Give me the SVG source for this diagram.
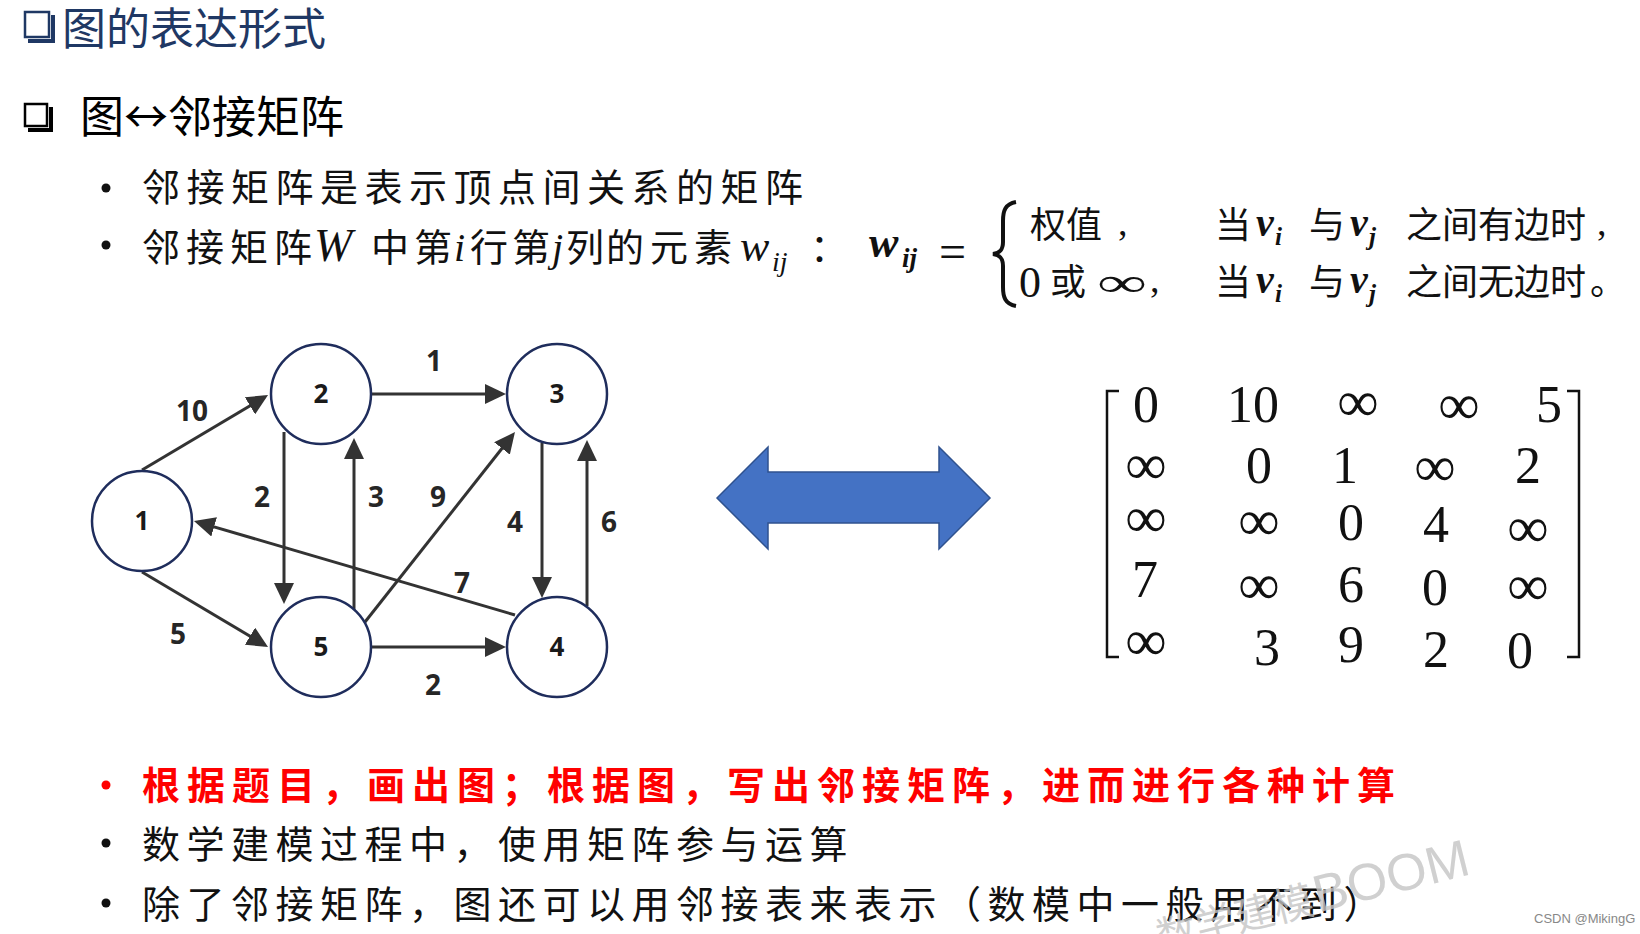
<svg xmlns="http://www.w3.org/2000/svg" width="1640" height="934" viewBox="0 0 1640 934">
<defs>
<style>
.cjk{font-family:"Noto Sans CJK SC","Noto Sans CJK JP",sans-serif;}
.bl{font-family:"Noto Sans CJK SC",sans-serif;font-size:38px;letter-spacing:6.5px;fill:#111;}
.mi{font-family:"Liberation Serif","DejaVu Serif",serif;font-style:italic;}
.rm{font-family:"Liberation Serif","DejaVu Serif",serif;}
.fc{font-family:"Noto Sans CJK SC",sans-serif;font-size:36px;fill:#111;}
.mx{font-family:"Liberation Serif",serif;font-size:52px;fill:#111;text-anchor:middle;}
.inf{font-family:"Liberation Serif",serif;font-size:58px;fill:#111;text-anchor:middle;}
.lbl{font-family:"Open Sans","Liberation Sans",sans-serif;font-weight:bold;font-size:28px;fill:#262626;text-anchor:middle;}
.nl{font-family:"Open Sans","Liberation Sans",sans-serif;font-weight:bold;font-size:26px;fill:#1a1a1a;text-anchor:middle;}
.node circle{fill:#fff;stroke:#1F2D5C;stroke-width:2.5;}
.edge{stroke:#333;stroke-width:3;fill:none;marker-end:url(#ah);}
.dot{fill:#111;}
.wm{font-family:"Liberation Sans","Noto Sans CJK SC",sans-serif;fill:#c4c4c4;fill-opacity:0.8;}
</style>
<marker id="ah" markerUnits="userSpaceOnUse" markerWidth="22" markerHeight="20" refX="17" refY="10" orient="auto">
<path d="M0,0 L21,10 L0,20 z" fill="#333"/>
</marker>
</defs>
<rect width="1640" height="934" fill="#fff"/>

<!-- Title -->
<g id="title">
<rect x="25" y="12" width="24" height="25" fill="none" stroke="#1F3864" stroke-width="2.5"/>
<polygon points="51,15 55,15 55,43 28,43 28,39 51,39" fill="#1F3864"/>
<text class="cjk" x="62" y="45" font-size="44" fill="#1F3864">图的表达形式</text>
</g>

<g id="subtitle">
<rect x="25" y="104" width="22" height="22" fill="none" stroke="#000" stroke-width="2.5"/>
<polygon points="49,107 53,107 53,132 28,132 28,128 49,128" fill="#000"/>
<text class="cjk" x="80" y="133" font-size="44" fill="#000">图↔邻接矩阵</text>
</g>

<!-- bullets top -->
<g id="bullet1">
<circle class="dot" cx="106" cy="188" r="4.5"/>
<text class="bl" x="142" y="201">邻接矩阵是表示顶点间关系的矩阵</text>
</g>
<g id="bullet2">
<circle class="dot" cx="106" cy="245" r="4.5"/>
<text class="cjk" font-size="38" fill="#111" y="261"><tspan x="142">邻</tspan><tspan x="186">接</tspan><tspan x="230">矩</tspan><tspan x="274">阵</tspan><tspan x="371">中</tspan><tspan x="414">第</tspan><tspan x="470">行</tspan><tspan x="512">第</tspan><tspan x="566">列</tspan><tspan x="606">的</tspan><tspan x="650">元</tspan><tspan x="694">素</tspan><tspan x="810">：</tspan></text>
<text class="mi" font-size="46" fill="#111" x="314" y="261">W</text>
<text class="mi" font-size="40" fill="#111" x="454" y="261">i</text>
<text class="mi" font-size="40" fill="#111" x="552" y="261">j</text>
<text class="mi" font-size="44" fill="#111" x="740" y="261">w</text>
<text class="mi" font-size="28" fill="#111" x="772" y="271">ij</text>
</g>

<!-- formula -->
<g id="formula">
<text class="mi" font-size="44" font-weight="bold" fill="#111" x="869" y="257">w</text>
<text class="mi" font-size="27" font-weight="bold" fill="#111" x="902" y="267">ij</text>
<text class="rm" font-size="48" fill="#111" x="939" y="268">=</text>
<path d="M1016,202 C1005,204 1003,211 1003,221 L1003,242 C1003,250 1000,253 993,254 C1000,255 1003,258 1003,266 L1003,287 C1003,297 1005,304 1016,306" fill="none" stroke="#111" stroke-width="4"/>
<text class="fc" x="1030" y="238">权值</text>
<text class="rm" font-size="38" fill="#111" x="1118" y="235">,</text>
<text class="rm" font-size="44" fill="#111" x="1019" y="297">0</text>
<text class="fc" x="1050" y="295">或</text>
<text class="rm" font-size="40" fill="#111" x="1097" y="296" textLength="50" lengthAdjust="spacingAndGlyphs">∞</text>
<text class="rm" font-size="38" fill="#111" x="1150" y="292">,</text>
<text class="fc" y="238"><tspan x="1215">当</tspan><tspan x="1309">与</tspan><tspan x="1406">之间有边时</tspan></text>
<text class="mi" font-size="40" font-weight="bold" fill="#111" x="1256" y="236">v</text>
<text class="mi" font-size="25" font-weight="bold" fill="#111" x="1275" y="245">i</text>
<text class="mi" font-size="40" font-weight="bold" fill="#111" x="1350" y="236">v</text>
<text class="mi" font-size="25" font-weight="bold" fill="#111" x="1369" y="245">j</text>
<text class="rm" font-size="38" fill="#111" x="1597" y="235">,</text>
<text class="fc" y="295"><tspan x="1215">当</tspan><tspan x="1309">与</tspan><tspan x="1406">之间无边时</tspan><tspan x="1590">。</tspan></text>
<text class="mi" font-size="40" font-weight="bold" fill="#111" x="1256" y="293">v</text>
<text class="mi" font-size="25" font-weight="bold" fill="#111" x="1275" y="302">i</text>
<text class="mi" font-size="40" font-weight="bold" fill="#111" x="1350" y="293">v</text>
<text class="mi" font-size="25" font-weight="bold" fill="#111" x="1369" y="302">j</text>
</g>

<!-- connectors -->
<g id="connectors">
<path class="edge" d="M142,470 L264.6,397.1"/>
<path class="edge" d="M142,572 L264.6,644.9"/>
<path class="edge" d="M372,394 L502,394"/>
<path class="edge" d="M372,647 L502,647"/>
<path class="edge" d="M284,432 L284,600"/>
<path class="edge" d="M354,610 L354,442"/>
<path class="edge" d="M542,443 L542,594"/>
<path class="edge" d="M587,606 L587,444"/>
<path class="edge" d="M365,622 L512.5,435.1"/>
<path class="edge" d="M515,615 L197.8,522.1"/>
<text class="lbl" x="192" y="421">10</text>
<text class="lbl" x="178" y="644">5</text>
<text class="lbl" x="434" y="371">1</text>
<text class="lbl" x="262" y="507">2</text>
<text class="lbl" x="376" y="507">3</text>
<text class="lbl" x="438" y="507">9</text>
<text class="lbl" x="515" y="532">4</text>
<text class="lbl" x="609" y="532">6</text>
<text class="lbl" x="462" y="593">7</text>
<text class="lbl" x="433" y="695">2</text>
</g>

<!-- nodes -->
<g id="node1" class="node"><circle cx="142" cy="521" r="50"/><text class="nl" x="142" y="530">1</text></g>
<g id="node2" class="node"><circle cx="321" cy="394" r="50"/><text class="nl" x="321" y="403">2</text></g>
<g id="node3" class="node"><circle cx="557" cy="394" r="50"/><text class="nl" x="557" y="403">3</text></g>
<g id="node4" class="node"><circle cx="557" cy="647" r="50"/><text class="nl" x="557" y="656">4</text></g>
<g id="node5" class="node"><circle cx="321" cy="647" r="50"/><text class="nl" x="321" y="656">5</text></g>

<!-- double arrow -->
<g id="double-arrow">
<polygon points="717,498 768,447 768,472 939,472 939,447 990,498 939,549 939,523 768,523 768,549" fill="#4472C4" stroke="#2F528F" stroke-width="1.5"/>
</g>

<!-- matrix -->
<g id="matrix">
<path d="M1119,391 L1107,391 L1107,657 L1119,657" fill="none" stroke="#111" stroke-width="2.5"/>
<path d="M1567,391 L1579,391 L1579,657 L1567,657" fill="none" stroke="#111" stroke-width="2.5"/>
<text class="mx" x="1146" y="422">0</text>
<text class="mx" x="1253" y="422">10</text>
<text class="inf" x="1358" y="421">∞</text>
<text class="inf" x="1459" y="424">∞</text>
<text class="mx" x="1549" y="422">5</text>

<text class="inf" x="1146" y="484">∞</text>
<text class="mx" x="1259" y="483">0</text>
<text class="mx" x="1345" y="483">1</text>
<text class="inf" x="1435" y="486">∞</text>
<text class="mx" x="1528" y="483">2</text>

<text class="inf" x="1146" y="537">∞</text>
<text class="inf" x="1259" y="540">∞</text>
<text class="mx" x="1351" y="540">0</text>
<text class="mx" x="1436" y="542">4</text>
<text class="inf" x="1528" y="547">∞</text>

<text class="mx" x="1145" y="597">7</text>
<text class="inf" x="1259" y="604">∞</text>
<text class="mx" x="1351" y="602">6</text>
<text class="mx" x="1435" y="605">0</text>
<text class="inf" x="1528" y="605">∞</text>

<text class="inf" x="1146" y="660">∞</text>
<text class="mx" x="1267" y="665">3</text>
<text class="mx" x="1351" y="662">9</text>
<text class="mx" x="1436" y="667">2</text>
<text class="mx" x="1520" y="668">0</text>
</g>

<!-- bottom bullets -->
<g id="bullet3">
<circle cx="106" cy="785" r="4.5" fill="#FF0000"/>
<text class="bl" x="142" y="799" style="fill:#FF0000;font-weight:bold;letter-spacing:7px">根据题目，画出图；根据图，写出邻接矩阵，进而进行各种计算</text>
</g>
<g id="bullet4">
<circle class="dot" cx="106" cy="843" r="4.5"/>
<text class="bl" x="142" y="858">数学建模过程中，使用矩阵参与运算</text>
</g>
<g id="bullet5">
<circle class="dot" cx="106" cy="903" r="4.5"/>
<text class="bl" x="142" y="918">除了邻接矩阵，图还可以用邻接表来表示（数模中一般用不到）</text>
</g>

<!-- watermark -->
<g id="watermark" transform="rotate(-14 1320 912)">
<text class="wm" x="1316" y="912" font-size="40" text-anchor="end">数学建模</text>
<text class="wm" x="1318" y="912" font-size="52">BOOM</text>
</g>
<text x="1534" y="923" font-family="Liberation Sans, sans-serif" font-size="13" fill="#888">CSDN @MikingG</text>
</svg>
